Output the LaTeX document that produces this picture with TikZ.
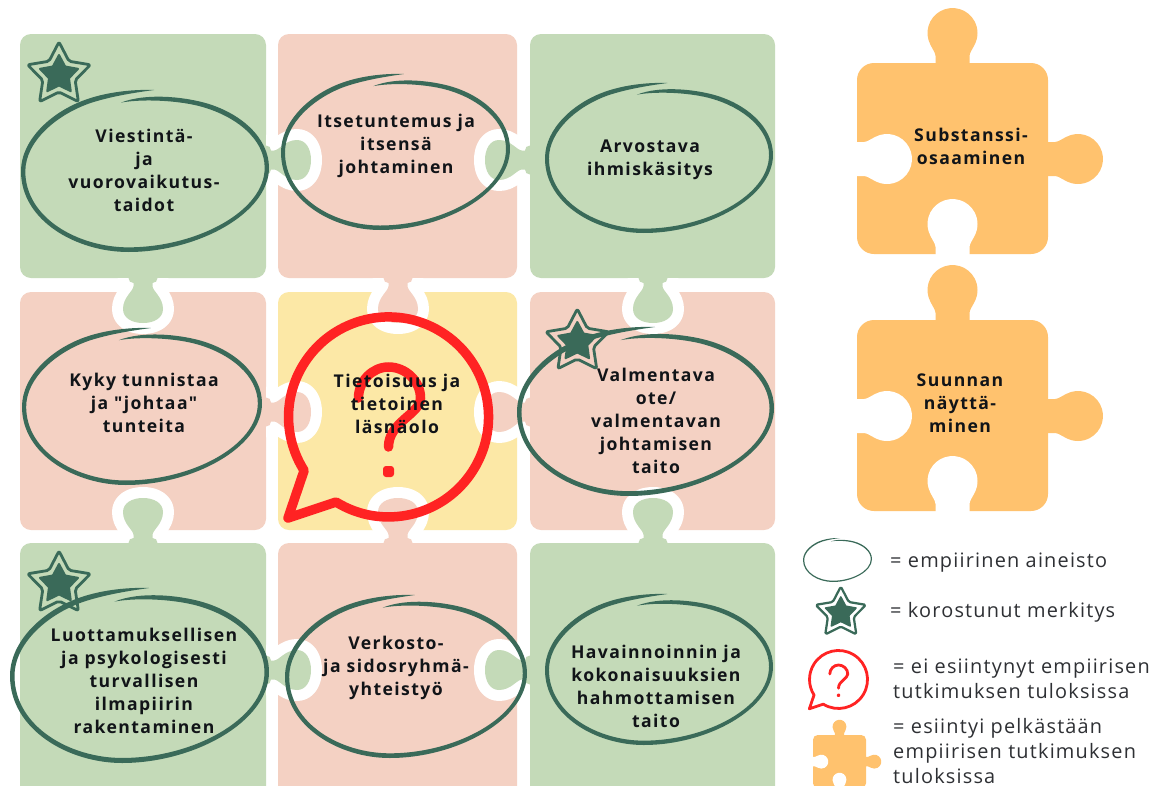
\documentclass[tikz,border=0pt]{standalone}
\usepackage{fontspec}
\setmainfont{Open Sans}
\newfontfamily\labfam[LetterSpace=8]{Open Sans}
\newfontfamily\legfam[LetterSpace=6]{Open Sans}
\definecolor{tgreen}{HTML}{C4DAB8}
\definecolor{tpink}{HTML}{F4D1C3}
\definecolor{tyellow}{HTML}{FCE8A6}
\definecolor{torange}{HTML}{FFC26E}
\definecolor{brushc}{HTML}{3A6A59}
\definecolor{redc}{HTML}{FF2323}
\definecolor{inkc}{HTML}{111418}
\definecolor{legc}{HTML}{2E3034}
\tikzset{
 lab/.style={font=\labfam\bfseries\fontsize{17.6}{23}\selectfont,text=inkc,align=center,inner sep=0pt},
 leg/.style={font=\legfam\fontsize{19.9}{25}\selectfont,text=legc,align=left,inner sep=0pt,anchor=west},
}
\newcommand{\tile}[5]{\fill[#5,rounded corners=11pt] (#1,#2) rectangle (#3,#4);}
\newcommand{\tabpath}{(0,-14.5) .. controls (3,-14.5) and (5,-12.5) .. (5,-9.5) -- (8,-9.5) .. controls (13,-9.5) and (19,-20) .. (31,-20) .. controls (40,-20) and (45,-11) .. (45,0) .. controls (45,11) and (40,20) .. (31,20) .. controls (19,20) and (13,9.5) .. (8,9.5) -- (5,9.5) .. controls (5,12.5) and (3,14.5) .. (0,14.5)}
\newcommand{\tabp}[4]{\begin{scope}[shift={(#1,#2)},rotate=#3]
 \begin{scope}\clip (0.2,-45) rectangle (80,45);
 \draw[white,line width=22pt,line join=round] \tabpath -- (-3,14.5) -- (-3,-14.5) -- cycle;\end{scope}
 \fill[#4] \tabpath -- (-1,14.5) -- (-1,-14.5) -- cycle;
\end{scope}}
\newcommand{\brush}[4]{\begin{scope}[shift={(#1,#2)},xscale=#3/689,yscale=#4/452,shift={(-102,-68)}]
 \fill[brushc] (472,68) .. controls (420,66) and (350,72) .. (290,92) .. controls (190,125) and (102,205) .. (102,295) .. controls (102,434) and (258,520) .. (400,520) .. controls (593,520) and (791,412) .. (791,285) .. controls (791,200) and (710,130) .. (610,103) .. controls (550,87) and (450,76) .. (380,103)
 .. controls (450,91) and (550,99) .. (605,115) .. controls (700,142) and (779,205) .. (779,285) .. controls (779,408) and (587,507) .. (400,507) .. controls (262,507) and (114,426) .. (114,295) .. controls (114,212) and (200,137) .. (296,104) .. controls (355,85) and (420,75) .. (472,68) -- cycle;
\end{scope}}
\newcommand{\starm}[3]{\begin{scope}[shift={(#1,#2)},scale=#3]
 \draw[brushc,line width=#3*2.8pt,line join=round,rounded corners=#3*2pt] (-90:33) -- (-54:17) -- (-18:33) -- (18:17) -- (54:33) -- (90:17) -- (126:33) -- (162:17) -- (198:33) -- (234:17) -- cycle;
 \fill[brushc,draw=brushc,line width=#3*2pt,line join=round] (-90:20) -- (-54:10.5) -- (-18:20) -- (18:10.5) -- (54:20) -- (90:10.5) -- (126:20) -- (162:10.5) -- (198:20) -- (234:10.5) -- cycle;
\end{scope}}
\newcommand{\bubble}[4]{\begin{scope}[shift={(#1,#2)},scale=#3]
 \draw[redc,line width=#4,line join=round,line cap=round] (-52.5,85) arc[start angle=121.7,end angle=-212.4,radius=100] -- (-100.5,101) -- cycle;
 \draw[redc,line width=#4,line cap=round] (-30,-19) .. controls (-30,-36) and (-16,-50) .. (0,-50) .. controls (17,-50) and (32,-36) .. (32,-19) .. controls (32,-3) and (0,5) .. (0,30);
 \fill[redc,rounded corners=#3*3pt] (-5.5,49) rectangle (5.5,60);
\end{scope}}
\newcommand{\lobe}{(-1,-17) -- (7,-17) .. controls (10,-17) and (14,-20) .. (18,-21.95) arc[start angle=-118.6,end angle=118.6,radius=25] .. controls (14,20) and (10,17) .. (7,17) -- (-1,17) -- cycle}
\newcommand{\puzzle}[3]{\begin{scope}[shift={(#1,#2)},scale=#3]
 \fill[torange,rounded corners=#3*17pt] (0,0) rectangle (191,191);
 \fill[torange,shift={(95.5,0)},rotate=-90] \lobe;
 \fill[torange,shift={(191,96)}] \lobe;
 \fill[white,shift={(0,96)}] \lobe;
 \fill[white,shift={(95.5,191)},rotate=-90] \lobe;
\end{scope}}
\begin{document}
\begin{tikzpicture}[x=1pt,y=1pt,yscale=-1]
\useasboundingbox (0,0) rectangle (1168,785);
\clip (0,0) rectangle (1168,785);
\fill[white] (0,0) rectangle (1168,785);
% tiles
\tile{20}{34}{266}{278}{tgreen}
\tile{278}{34}{517}{278}{tpink}
\tile{530}{34}{775}{278}{tgreen}
\tile{20}{292}{266}{530}{tpink}
\tile{278}{292}{517}{530}{tyellow}
\tile{530}{292}{775}{530}{tpink}
\tile{20}{543}{266}{798}{tgreen}
\tile{278}{543}{517}{798}{tpink}
\tile{530}{543}{775}{798}{tgreen}
% tabs
\tabp{266}{160}{0}{tgreen}
\tabp{530}{160}{180}{tgreen}
\tabp{143}{278}{90}{tgreen}
\tabp{398}{278}{90}{tpink}
\tabp{653}{278}{90}{tgreen}
\tabp{266}{412}{0}{tpink}
\tabp{530}{412}{180}{tpink}
\tabp{143}{543}{-90}{tgreen}
\tabp{398}{543}{-90}{tpink}
\tabp{653}{543}{-90}{tgreen}
\tabp{266}{670}{0}{tgreen}
\tabp{530}{670}{180}{tgreen}
% orange pieces
\puzzle{857}{63}{1}
\puzzle{857}{320}{1}
\puzzle{813}{735}{0.2775}
% speech bubble
\bubble{388.5}{417}{1}{9.5pt}
% labels
\node[lab] (t1) at (144,170) {Viestintä-\\ja\\vuorovaikutus-\\taidot};
\node[lab] (t2) at (396,146) {Itsetuntemus ja\\itsensä\\johtaminen};
\node[lab] (t3) at (650,160) {Arvostava\\ihmiskäsitys};
\node[lab] (t4) at (144,403) {Kyky tunnistaa\\ja "johtaa"\\tunteita};
\node[lab] (t5) at (397,404) {Tietoisuus ja\\tietoinen\\läsnäolo};
\node[lab] (t6) at (656,421) {Valmentava\\ote/\\valmentavan\\johtamisen\\taito};
\node[lab] (t7) at (144,681) {Luottamuksellisen\\ja psykologisesti\\turvallisen\\ilmapiirin\\rakentaminen};
\node[lab] (t8) at (396,668) {Verkosto-\\ja sidosryhmä-\\yhteistyö};
\node[lab] (t9) at (656,686) {Havainnoinnin ja\\kokonaisuuksien\\hahmottamisen\\taito};
\node[lab] (t10) at (971,146) {Substanssi-\\osaaminen};
\node[lab] (t11) at (960,403) {Suunnan\\näyttä-\\minen};
% circled outlines
\brush{21}{90}{248}{162}
\brush{281}{74}{229}{156}
\brush{545}{83}{228}{150}
\brush{22}{328}{240}{157}
\brush{517}{327}{257}{169}
\brush{10}{588}{259}{175}
\brush{285}{595}{242}{163}
\brush{545}{594}{228}{151}
% stars
\starm{59}{75}{1}
\starm{577.3}{342}{1}
\starm{59}{584}{1}
% legend
\brush{803}{538}{69}{44}
\starm{840.8}{613}{0.8}
\bubble{838.5}{679.5}{0.29}{2.8pt}
\node[leg] (l1) at (890,562.5) {= empiirinen aineisto};
\node[leg] (l2) at (890,612.5) {= korostunut merkitys};
\node[leg] (l3) at (893,679) {= ei esiintynyt empiirisen\\tutkimuksen tuloksissa};
\node[leg] (l4) at (893,751.5) {= esiintyi pelkästään\\empiirisen tutkimuksen\\tuloksissa};
\end{tikzpicture}
\end{document}
